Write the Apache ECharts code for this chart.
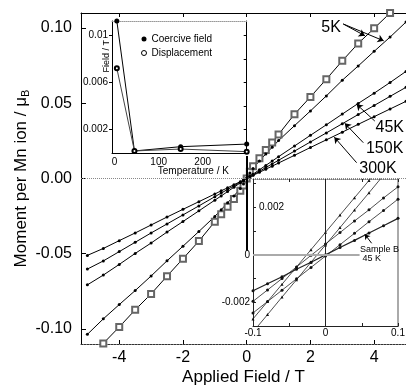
<!DOCTYPE html>
<html><head><meta charset="utf-8">
<script src="https://cdn.jsdelivr.net/npm/echarts@6/dist/echarts.min.js"></script>
<style>html,body{margin:0;padding:0;background:#fff}#c{width:406px;height:387px}</style>
</head><body><div id="c"></div>
<script>
// ---- main panel data (Applied field / T vs moment per Mn ion / μB)
var fieldDots = [-5,-4.5,-4,-3.5,-3,-2.5,-2,-1.5,-1,-0.8,-0.6,-0.4,-0.2,-0.1,0,0.1,0.2,0.4,0.6,0.8,1,1.5,2,2.5,3,3.5,4,4.5,5];
var fieldSq = [-4.5,-4,-3.5,-3,-2.5,-2,-1.5,-1,-0.8,-0.6,-0.4,-0.2,-0.1,0,0.1,0.2,0.4,0.6,0.8,1,1.5,2,2.5,3,3.5,4,4.5];
var m5Sq = [-0.1096,-0.0987,-0.0873,-0.0767,-0.0649,-0.0533,-0.0416,-0.0287,-0.0238,-0.0188,-0.0136,-0.0082,-0.0046,0,0.0045,0.0081,0.0135,0.0189,0.0240,0.0293,0.0427,0.0542,0.0660,0.0782,0.0898,0.0998,0.1100];
var m5Dots = [-0.1036,-0.0933,-0.0838,-0.0745,-0.0648,-0.0547,-0.0450,-0.0352,-0.0252,-0.0207,-0.0162,-0.0116,-0.0066,-0.0036,0,0.0036,0.0067,0.0117,0.0163,0.0208,0.0252,0.0351,0.0449,0.0549,0.0653,0.0748,0.0845,0.0940,0.1040];
var m45 = [-0.0707,-0.0642,-0.0571,-0.0498,-0.0429,-0.0356,-0.0286,-0.0215,-0.0144,-0.0116,-0.0087,-0.0058,-0.0029,-0.0015,0,0.0015,0.0029,0.0058,0.0087,0.0116,0.0145,0.0216,0.0287,0.0357,0.0428,0.0499,0.0567,0.0638,0.0712];
var m150 = [-0.0602,-0.0548,-0.0486,-0.0424,-0.0362,-0.0302,-0.0242,-0.0182,-0.0121,-0.0097,-0.0073,-0.0049,-0.0024,-0.0012,0,0.0012,0.0024,0.0048,0.0073,0.0097,0.0121,0.0182,0.0243,0.0303,0.0364,0.0425,0.0485,0.0546,0.0606];
var m300 = [-0.0511,-0.0465,-0.0413,-0.0362,-0.0309,-0.0256,-0.0205,-0.0154,-0.0103,-0.0082,-0.0062,-0.0041,-0.0021,-0.0010,0,0.0010,0.0021,0.0041,0.0062,0.0082,0.0103,0.0154,0.0206,0.0257,0.0308,0.0360,0.0411,0.0462,0.0513];
var mainXTicks = [-4,-2,0,2,4];
var mainYTicks = [-0.1,-0.05,0,0.05,0.1];
var curveLabels = ['5K','45K','150K','300K'];

// ---- top-left inset (Field / T vs Temperature / K)
var temps = [5,45,150,300];
var coercive = [0.0112,0.0002,0.00056,0.00078];
var displacement = [0.0072,0.0002,0.00036,0.00014];
var insetTXTicks = [0,100,200];
var insetTYTicks = [0.002,0.006,0.01];

// ---- bottom-right inset (zoom near zero field)
var fieldSmall = [-0.1,-0.08,-0.06,-0.04,-0.02,0,0.02,0.04,0.06,0.08,0.1];
var smallA = [-0.0027,-0.00197,-0.00124,-0.00051,0.00022,0.00095,0.00168,0.00241,0.00314,0.00387,0.0046];
var smallB = [-0.00325,-0.00252,-0.00178,-0.00105,-0.00031,0.00042,0.00115,0.00189,0.00262,0.00336,0.0041];
var smallC = [-0.00196,-0.00148,-0.001,-0.00051,-0.00002,0.00046,0.00094,0.00143,0.0019,0.0024,0.00287];
var smallD = [-0.00245,-0.00197,-0.00149,-0.00101,-0.00053,-0.00005,0.00043,0.00091,0.0014,0.00187,0.00235];
var smallE = [-0.00151,-0.00122,-0.00092,-0.00061,-0.00031,0,0.00031,0.00061,0.00092,0.00123,0.00154];
var insetBXLabels = [-0.1,0,0.1];
var insetBXTicks = [-0.1,-0.05,0,0.05,0.1];
var insetBYLabelsOut = [0,-0.002];
var insetBYLabelsIn = [0.002];
var insetBYTicks = [-0.002,-0.001,0,0.001,0.002,0.003];

function zip(xs, ys){ return xs.map(function(x,i){ return [x, ys[i]]; }); }
var FF = '"Liberation Sans", Arial, sans-serif';

var chart = echarts.init(document.getElementById('c'), null, {renderer:'canvas'});
function mainSeries(name, xs, ys, sym, size, extra){
  var s = {name:name, type:'line', xAxisIndex:0, yAxisIndex:0, data:zip(xs,ys),
    symbol:sym, symbolSize:size, showSymbol:true, silent:true,
    lineStyle:{color:'#000', width:1}, itemStyle:{color:'#000'}, z:3};
  if (sym === 'emptyRect') { s.itemStyle = {color:'#666', borderColor:'#666', borderWidth:0.8}; }
  for (var k in extra) s[k] = extra[k];
  return s;
}
function smallSeries(name, ys, sym, width, extra){
  var s = {name:name, type:'line', xAxisIndex:4, yAxisIndex:3, data:zip(fieldSmall, ys),
    symbol:sym, symbolSize:3, silent:true, lineStyle:{color:'#222', width:width}, itemStyle:{color:'#111'}, z:3};
  for (var k in extra) s[k] = extra[k];
  return s;
}
var arrowStyle = {color:'#000', width:1, type:'solid'};

var option = {
  animation:false,
  backgroundColor:'#fff',
  textStyle:{fontFamily:FF},
  legend:{left:136, top:29, orient:'vertical', itemWidth:5, itemHeight:5, itemGap:4,
    textStyle:{fontSize:10, color:'#000', fontFamily:FF},
    data:[{name:'Coercive field', icon:'circle', itemStyle:{color:'#000'}},
          {name:'Displacement', icon:'circle', itemStyle:{color:'#fff', borderColor:'#000', borderWidth:1}}]},
  grid:[
    {left:81, top:13, right:0, bottom:43, outerBoundsMode:'none', containLabel:false},
    {left:112, top:21, width:134.7, height:132.3, show:true, backgroundColor:'#fff', borderWidth:0, outerBoundsMode:'none', containLabel:false},
    {left:253, top:179, width:145, height:147, show:true, backgroundColor:'#fff', borderWidth:0, outerBoundsMode:'none', containLabel:false}
  ],
  xAxis:[
    {type:'value', gridIndex:0, min:-5.2, max:5, position:'bottom',
      axisLine:{onZero:false, lineStyle:{color:'#333', width:1, type:[2,1]}},
      axisTick:{inside:true, length:4, customValues:mainXTicks, lineStyle:{color:'#000'}},
      axisLabel:{customValues:mainXTicks, fontSize:16, color:'#000', margin:6, fontFamily:FF},
      splitLine:{show:false},
      name:'Applied Field / T', nameLocation:'middle', nameGap:25, nameMoveOverlap:false,
      nameTextStyle:{fontSize:17, color:'#000', fontFamily:FF}},
    {type:'value', gridIndex:0, min:-5.2, max:5, position:'top',
      axisLine:{onZero:false, lineStyle:{color:'#000', width:1}},
      axisTick:{inside:true, length:4, customValues:mainXTicks, lineStyle:{color:'#000'}},
      axisLabel:{show:false}, splitLine:{show:false}},
    {type:'value', gridIndex:1, min:-6, max:300, position:'bottom',
      axisLine:{onZero:false, lineStyle:{color:'#000', width:1}},
      axisTick:{show:false},
      axisLabel:{customValues:insetTXTicks, fontSize:10, color:'#000', margin:4, fontFamily:FF},
      splitLine:{show:false},
      name:'Temperature / K', nameLocation:'middle', nameGap:13, nameMoveOverlap:false,
      nameTextStyle:{fontSize:10, color:'#000', fontFamily:FF, padding:[0,0,0,28]}},
    {type:'value', gridIndex:1, min:-6, max:300, position:'top',
      axisLine:{onZero:false, lineStyle:{color:'#999', width:1, type:'dotted'}},
      axisTick:{show:false}, axisLabel:{show:false}, splitLine:{show:false}},
    {type:'value', gridIndex:2, min:-0.1, max:0.1, position:'bottom',
      axisLine:{onZero:false, lineStyle:{color:'#222', width:1}},
      axisTick:{inside:true, length:3, customValues:insetBXTicks, lineStyle:{color:'#222'}},
      axisLabel:{customValues:insetBXLabels, fontSize:10, color:'#000', margin:2, fontFamily:FF},
      splitLine:{show:false}},
    {type:'value', gridIndex:2, min:-0.1, max:0.1, position:'top',
      axisLine:{onZero:false, lineStyle:{color:'#777', width:1, type:'dotted'}},
      axisTick:{inside:true, length:3, customValues:insetBXTicks, lineStyle:{color:'#222'}},
      axisLabel:{show:false}, splitLine:{show:false}}
  ],
  yAxis:[
    {type:'value', gridIndex:0, min:-0.11, max:0.11, position:'left',
      axisLine:{onZero:false, lineStyle:{color:'#000', width:1}},
      axisTick:{inside:true, length:5, customValues:mainYTicks, lineStyle:{color:'#000'}},
      axisLabel:{customValues:mainYTicks, fontSize:16, color:'#000', margin:9, fontFamily:FF,
        formatter:function(v){ return v.toFixed(2); }},
      splitLine:{show:false},
      name:'Moment per Mn ion / μ{s|B}', nameLocation:'middle', nameGap:50, nameRotate:90, nameMoveOverlap:false,
      nameTextStyle:{fontSize:17, color:'#000', fontFamily:FF,
        rich:{s:{fontSize:11, color:'#000', fontFamily:FF, padding:[9,0,0,0]}}}},
    {type:'value', gridIndex:1, min:0, max:0.0112, position:'left',
      axisLine:{onZero:false, lineStyle:{color:'#000', width:1}},
      axisTick:{inside:false, length:3, customValues:insetTYTicks, lineStyle:{color:'#000'}},
      axisLabel:{customValues:insetTYTicks, fontSize:10, color:'#000', margin:4, fontFamily:FF,
        formatter:function(v){ return String(+v.toFixed(4)); }},
      splitLine:{show:false},
      name:'Field / T', nameLocation:'middle', nameGap:1, nameRotate:90, nameMoveOverlap:false,
      nameTextStyle:{fontSize:9, color:'#000', fontFamily:FF, padding:[0,0,0,62]}},
    {type:'value', gridIndex:1, min:0, max:0.0112, position:'right',
      axisLine:{onZero:false, lineStyle:{color:'#000', width:1}},
      axisTick:{inside:true, length:3, customValues:[0.002,0.004,0.006,0.008,0.01], lineStyle:{color:'#000'}},
      axisLabel:{show:false}, splitLine:{show:false}},
    {type:'value', gridIndex:2, min:-0.003, max:0.0032, position:'left',
      axisLine:{onZero:false, lineStyle:{color:'#222', width:1}},
      axisTick:{inside:true, length:3, customValues:insetBYTicks, lineStyle:{color:'#222'}},
      axisLabel:{customValues:insetBYLabelsOut, fontSize:10, color:'#000', margin:3, fontFamily:FF,
        formatter:function(v){ return String(+v.toFixed(4)); }},
      splitLine:{show:false}},
    {type:'value', gridIndex:2, min:-0.003, max:0.0032, position:'left',
      axisLine:{show:false}, axisTick:{show:false},
      axisLabel:{inside:true, customValues:insetBYLabelsIn, fontSize:10, color:'#000', margin:6, fontFamily:FF,
        formatter:function(v){ return String(+v.toFixed(4)); }},
      splitLine:{show:false}},
    {type:'value', gridIndex:2, min:-0.003, max:0.0032, position:'right',
      axisLine:{onZero:false, lineStyle:{color:'#aaa', width:2}},
      axisTick:{show:false}, axisLabel:{show:false}, splitLine:{show:false}}
  ],
  series:[
    mainSeries('5K A', fieldSq, m5Sq, 'emptyRect', 6, {
      clip:false,
      markLine:{silent:true, symbol:['none','arrow'], symbolSize:6, label:{show:false},
        lineStyle:arrowStyle,
        data:[
          [{coord:[3.03,0.1027]},{coord:[3.71,0.0949]}],
          [{coord:[3.03,0.1027]},{coord:[4.3,0.0915]}],
          [{coord:[4.02,0.0382]},{coord:[3.45,0.0493]}],
          [{coord:[3.66,0.0238]},{coord:[3.08,0.0367]}],
          [{coord:[3.45,0.0105]},{coord:[2.75,0.0275]}]
        ]}
    }),
    mainSeries('5K B', fieldDots, m5Dots, 'circle', 3, {
      markLine:{silent:true, symbol:'none', label:{show:false},
        data:[
          {yAxis:0, lineStyle:{color:'#888', width:1, type:'dotted'}},
          [{coord:[0,0.015], lineStyle:{color:'#000', width:2, type:'solid'}},{coord:[0,-0.048]}]
        ]}
    }),
    mainSeries('45K', fieldDots, m45, 'circle', 3, {
      markPoint:{silent:true, symbol:'circle', symbolSize:0,
        label:{show:true, position:'inside', formatter:'{b}', fontSize:16, color:'#000', fontFamily:FF},
        data:[
          {name:curveLabels[0], coord:[2.65,0.1005]},
          {name:curveLabels[1], coord:[4.49,0.034]},
          {name:curveLabels[2], coord:[4.33,0.0198]},
          {name:curveLabels[3], coord:[4.12,0.0065]}
        ]}
    }),
    mainSeries('150K', fieldDots, m150, 'circle', 3, {}),
    mainSeries('300K', fieldDots, m300, 'circle', 3, {}),
    {name:'Coercive field', type:'line', xAxisIndex:2, yAxisIndex:1, data:zip(temps, coercive),
      symbol:'circle', symbolSize:5, silent:true, clip:false, lineStyle:{color:'#000', width:1}, itemStyle:{color:'#000'}, z:4},
    {name:'Displacement', type:'line', xAxisIndex:2, yAxisIndex:1, data:zip(temps, displacement),
      symbol:'emptyCircle', symbolSize:4, silent:true, clip:false, lineStyle:{color:'#444', width:1}, itemStyle:{color:'#000', borderWidth:1}, z:4},
    smallSeries('A', smallA, 'triangle', 0.8, {
      markLine:{silent:true, symbol:'none', label:{show:false},
        data:[
          {xAxis:0, lineStyle:{color:'#222', width:1, type:'solid'}},
          [{coord:[-0.1,0], lineStyle:{color:'#aaa', width:2, type:'solid'}},{coord:[0.047,0]}]
        ]}
    }),
    smallSeries('B', smallB, 'triangle', 0.8, {}),
    smallSeries('C', smallC, 'circle', 0.8, {}),
    smallSeries('D', smallD, 'circle', 0.8, {}),
    smallSeries('E', smallE, 'circle', 1.2, {
      markLine:{silent:true, symbol:['none','arrow'], symbolSize:5, label:{show:false},
        lineStyle:{color:'#000', width:1, type:'solid'},
        data:[[{coord:[0.0636,0.00049]},{coord:[0.0543,0.00087]}]]},
      markPoint:{silent:true, symbol:'circle', symbolSize:0,
        label:{show:true, position:'right', distance:0, fontSize:9, lineHeight:9, color:'#000', fontFamily:FF,
          formatter:'Sample B\n 45 K'},
        data:[{name:'Sample B', coord:[0.0475,0.00002]}]}
    })
  ]
};
chart.setOption(option);
</script></body></html>
